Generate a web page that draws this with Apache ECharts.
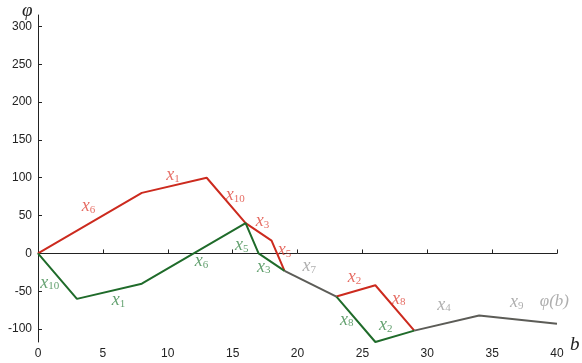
<!DOCTYPE html>
<html><head><meta charset="utf-8">
<script src="https://cdn.jsdelivr.net/npm/echarts@6/dist/echarts.min.js"></script>
<style>html,body{margin:0;background:#fff}#c{width:582px;height:363px}</style>
</head><body><div id="c"></div>
<script>
// Piecewise-linear paths (b, phi)
const redPath1   = [[0,0],[8,80],[13,100],[16,40],[18,17],[19,-23]];
const greenPath1 = [[0,0],[3,-60],[8,-40],[16,40],[17,0],[19,-23]];
const grayPath1  = [[19,-23],[23,-57]];
const redPath2   = [[23,-57],[26,-42],[29,-102]];
const greenPath2 = [[23,-57],[26,-117],[29,-102]];
const grayPath2  = [[29,-102],[34,-82],[40,-93]];

// Segment annotations: [b, phi, subscript]
const redLabels = [[3.9,62,'6'],[10.4,103,'1'],[15.2,77,'10'],[17.3,42,'3'],[19.0,4,'5'],[24.4,-32,'2'],[27.8,-60,'8']];
const greenLabels = [[0.9,-39,'10'],[6.2,-62,'1'],[12.6,-11,'6'],[15.7,11,'5'],[17.4,-18,'3'],[23.8,-88,'8'],[26.8,-95,'2']];
const grayLabels = [[20.9,-17,'7'],[31.3,-68,'4'],[36.9,-65,'9']];
const curveLabel = [[39.8,-63,'φ(b)']];

const xTicks = [0,5,10,15,20,25,30,35,40];
const yTicks = [-100,-50,0,50,100,150,200,250,300];

const RED = '#cc2a1e', GREEN = '#1f6b2a', GRAY = '#5c5c57';
const RED_T = '#e0493d', GREEN_T = '#3d8a4c', GRAY_T = '#9a9a9a';

function lineSeries(data, color){
  return {type:'line', data, symbol:'none', lineStyle:{color, width:2}, silent:true, animation:false, z:2};
}
function labelSeries(data, color){
  return {
    type:'scatter', data, symbolSize:0, animation:false, silent:true, z:5,
    label:{
      show:true, position:'inside',
      formatter: p => '{m|x}{s|' + p.data[2] + '}',
      rich:{
        m:{fontFamily:'Liberation Serif', fontStyle:'italic', fontSize:18, color, lineHeight:18},
        s:{fontFamily:'Liberation Serif', fontSize:11, color, verticalAlign:'bottom', lineHeight:11, padding:[9,0,0,0]}
      }
    }
  };
}

const chart = echarts.init(document.getElementById('c'));
chart.setOption({
  animation:false,
  grid:{left:38, right:25, top:15, bottom:21, containLabel:false},
  xAxis:{
    type:'value', min:0, max:40, interval:5,
    axisLine:{show:true, lineStyle:{color:'#222', width:1}},
    axisTick:{show:true, inside:true, length:4, lineStyle:{color:'#222'}},
    axisLabel:{color:'#222', fontSize:12, fontFamily:'Liberation Sans', margin:6},
    splitLine:{show:false}
  },
  yAxis:{
    type:'value', min:-117, max:315,
    axisLine:{show:true, onZero:false, lineStyle:{color:'#222', width:1}},
    axisTick:{show:true, inside:true, length:4, customValues:yTicks, lineStyle:{color:'#222'}},
    axisLabel:{color:'#222', fontSize:12, fontFamily:'Liberation Sans', margin:6, customValues:yTicks},
    splitLine:{show:false}
  },
  graphic:[
    {type:'text', left:22, top:1, style:{text:'φ', font:'italic 19px "Liberation Serif"', fill:'#222'}},
    {type:'text', left:570, top:335, style:{text:'b', font:'italic 19px "Liberation Serif"', fill:'#222'}}
  ],
  series:[
    lineSeries(redPath1, RED),
    lineSeries(greenPath1, GREEN),
    lineSeries(redPath2, RED),
    lineSeries(greenPath2, GREEN),
    lineSeries(grayPath1, GRAY),
    lineSeries(grayPath2, GRAY),
    labelSeries(redLabels, RED_T),
    labelSeries(greenLabels, GREEN_T),
    labelSeries(grayLabels, GRAY_T),
    {
      type:'scatter', data:curveLabel, symbolSize:0, animation:false, silent:true, z:5,
      label:{show:true, position:'inside', formatter:p=>p.data[2],
        fontFamily:'Liberation Serif', fontStyle:'italic', fontSize:17, color:GRAY_T}
    }
  ]
});
</script></body></html>
